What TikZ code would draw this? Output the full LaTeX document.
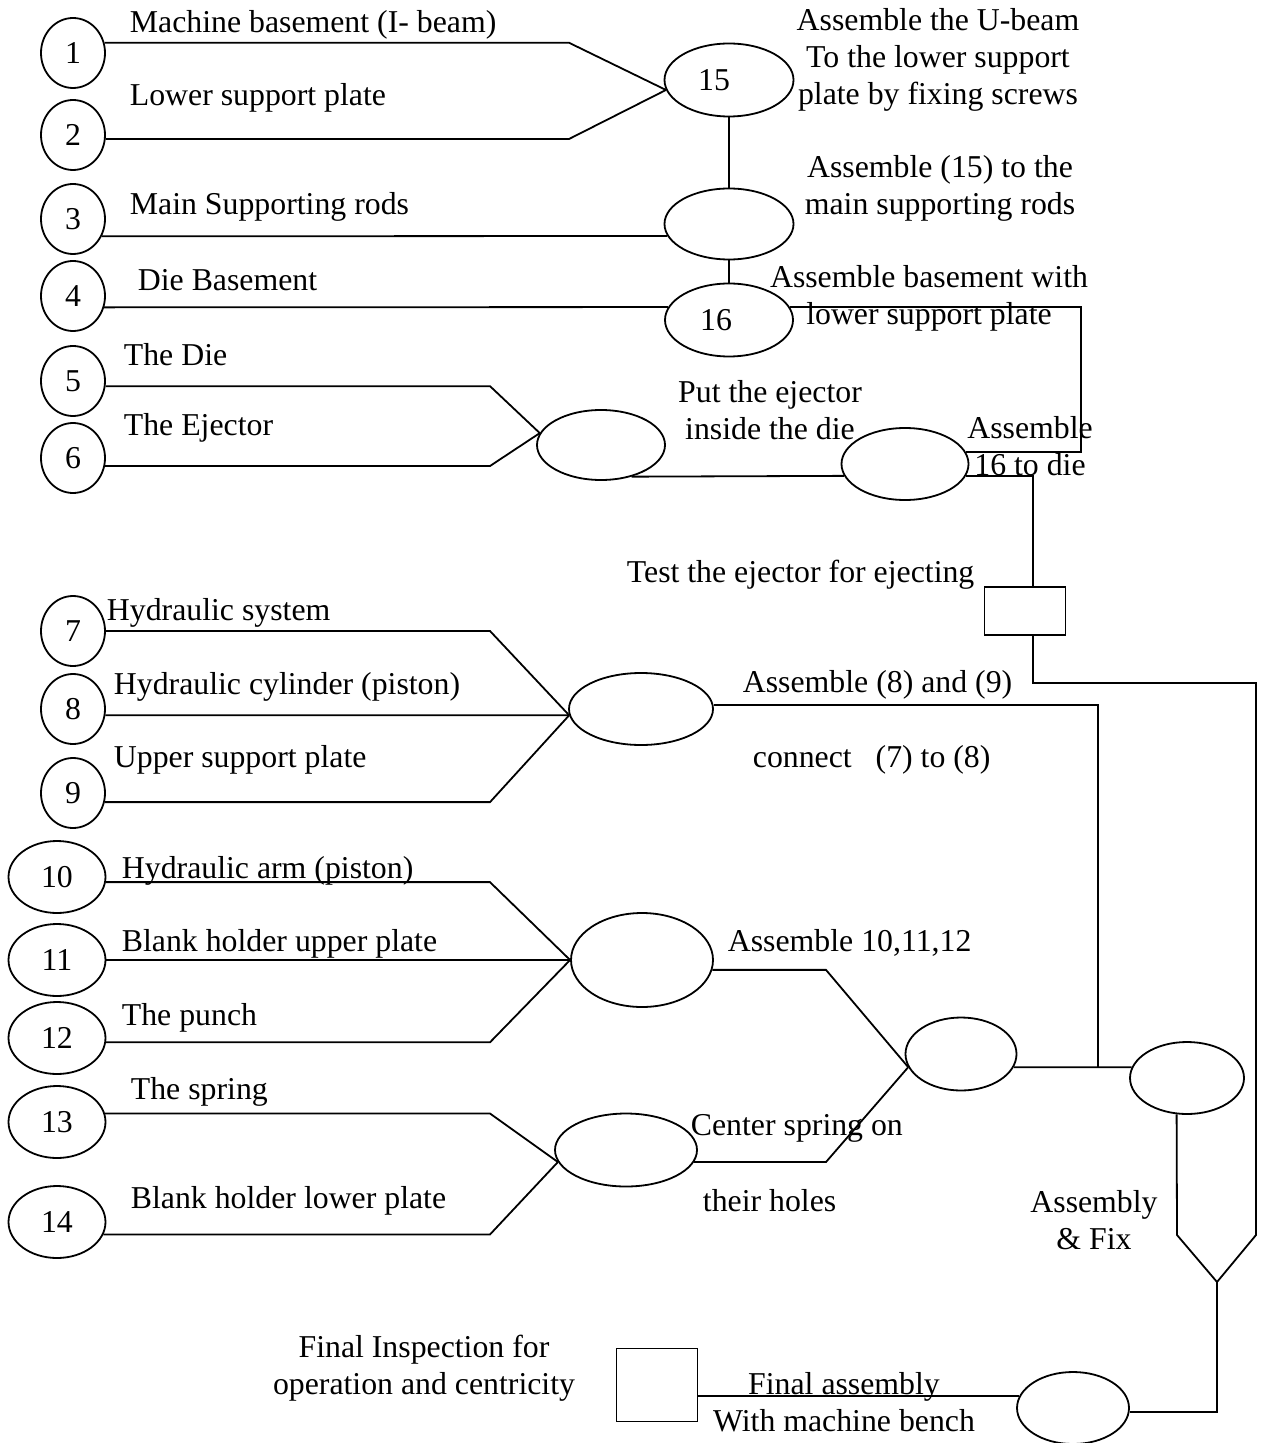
\documentclass[tikz,border=0pt]{standalone}
\usepackage{fontspec}
\setmainfont{Liberation Serif}
\usetikzlibrary{shapes.geometric}

\tikzset{
  partnode/.style={draw, ellipse, minimum width=32pt, minimum height=35pt, inner sep=0pt},
  partwide/.style={partnode, minimum width=48.5pt, minimum height=36pt},
  joint/.style={draw, ellipse, inner sep=0pt},
  inspect/.style={draw, rectangle, inner sep=0pt},
  txt/.style={inner sep=0pt, anchor=west},
  mtxt/.style={inner sep=0pt, align=center}
}

\begin{document}
\begin{tikzpicture}[x=0.5pt, y=-0.5pt, line width=0.9pt, font=\fontsize{15.9}{18.5}\selectfont]
    \useasboundingbox (0,0) rectangle (1260,1443);

    \coordinate (colA) at (569,0);
    \coordinate (colB) at (490,0);
    \coordinate (colC) at (826,0);
    \coordinate (busA) at (1081,380);
    \coordinate (busB) at (1256,683);
    \coordinate (joinR) at (1098,1067);
    \coordinate (funR) at (1256,1235);
    \coordinate (funL) at (1177,1235);
    \coordinate (funnel) at (1217,1282);

    % parts
    \node[partnode] (p1) at (73,53) {1};
    \node[partnode] (p2) at (73,135) {2};
    \node[partnode] (p3) at (73,219) {3};
    \node[partnode] (p4) at (73,296) {4};
    \node[partnode] (p5) at (73,381) {5};
    \node[partnode] (p6) at (73,458) {6};
    \node[partnode] (p7) at (73,631) {7};
    \node[partnode] (p8) at (73,709) {8};
    \node[partnode] (p9) at (73,793) {9};
    \node[partwide] (p10) at (57,877) {10};
    \node[partwide] (p11) at (57,960) {11};
    \node[partwide] (p12) at (57,1038) {12};
    \node[partwide] (p13) at (57,1122) {13};
    \node[partwide] (p14) at (57,1222) {14};

    % assembly steps
    \node[joint, minimum width=64.5pt, minimum height=36.5pt, label={[xshift=-7.5pt]center:15}] (j15) at (729,80) {};
    \node[joint, minimum width=64.5pt, minimum height=35.5pt] (j3) at (729,224) {};
    \node[joint, minimum width=64pt, minimum height=36.5pt, label={[xshift=-6.5pt]center:16}] (j16) at (729,320) {};
    \node[joint, minimum width=64pt, minimum height=35pt] (j56) at (601,445) {};
    \node[joint, minimum width=63.5pt, minimum height=36pt] (jdie) at (905,464) {};
    \node[inspect, minimum width=40.5pt, minimum height=24pt] (test) at (1025,611) {};
    \node[joint, minimum width=72pt, minimum height=36pt] (j789) at (641,709) {};
    \node[joint, minimum width=71pt, minimum height=47pt] (j1012) at (642,960) {};
    \node[joint, minimum width=71pt, minimum height=36.5pt] (j1314) at (626,1150) {};
    \node[joint, minimum width=55.5pt, minimum height=36.5pt] (jmid) at (961,1054) {};
    \node[joint, minimum width=57pt, minimum height=36pt] (jfix) at (1187,1078) {};
    \node[joint, minimum width=56pt, minimum height=36pt] (jbench) at (1073,1408) {};
    \node[inspect, minimum width=40.5pt, minimum height=36.5pt] (final) at (657,1385) {};

    % part names
    \node[txt] (t1) at (129,25) {Machine basement (I- beam)};
    \node[txt] (t2) at (129,98) {Lower support plate};
    \node[txt] (t3) at (129,207) {Main Supporting rods};
    \node[txt] (t4) at (137,280) {Die Basement};
    \node[txt] (t5) at (123,355) {The Die};
    \node[txt] (t6) at (123,428) {The Ejector};
    \node[txt] (t7) at (106,613) {Hydraulic system};
    \node[txt] (t8) at (113,687) {Hydraulic cylinder (piston)};
    \node[txt] (t9) at (113,760) {Upper support plate};
    \node[txt] (t10) at (121,871) {Hydraulic arm (piston)};
    \node[txt] (t11) at (121,944) {Blank holder upper plate};
    \node[txt] (t12) at (121,1018) {The punch};
    \node[txt] (t13) at (130,1092) {The spring};
    \node[txt] (t14) at (130,1201) {Blank holder lower plate};

    % step notes
    \node[mtxt] (t15) at (938,60) {Assemble the U-beam\\To the lower support\\plate by fixing screws};
    \node[mtxt] (t3j) at (940,188) {Assemble (15) to the\\main supporting rods};
    \node[mtxt] (t16) at (929,298) {Assemble basement with\\lower support plate};
    \node[mtxt] (t56) at (770,410) {Put the ejector\\inside the die};
    \node[mtxt] (tdie) at (1030,446) {Assemble\\16 to die};
    \node[txt] (ttest) at (626,575) {Test the ejector for ejecting};
    \node[txt] (t89) at (742,685) {Assemble (8) and (9)};
    \node[txt] (t78) at (752,760) {connect\ \ \ (7) to (8)};
    \node[txt] (t1012) at (727,943) {Assemble 10,11,12};
    \node[txt] (tspr) at (690,1128) {Center spring on};
    \node[txt] (thol) at (702,1201) {their holes};
    \node[mtxt] (tfix) at (1094,1220) {Assembly\\\& Fix};
    \node[mtxt] (tfin) at (424,1368) {Final Inspection for\\operation and centricity};
    \node[mtxt] (tbench) at (844,1402) {Final assembly\\With machine bench};

    % upper group
    \draw (p1.18) -- (p1.18 -| colA) -- (j15.189);
    \draw (p2.-7) -- (p2.-7 -| colA) -- (j15.189);
    \draw (j15.south) -- (j3.north);
    \draw (p3.-31) -- (j3.191);
    \draw (j3.south) -- (j16.north);
    \draw (p4.-20) -- (j16.168);
    \draw (j16.12) -| (busA) |- (jdie.11);
    \draw (p5.-9) -- (p5.-9 -| colB) -- (j56.169);
    \draw (p6.-14) -- (p6.-14 -| colB) -- (j56.169);
    \draw (j56.-46) -- (jdie.191);
    \draw (jdie.-11) -| ([xshift=4pt]test.north);
    \draw ([xshift=4pt]test.south) |- (busB) -- (funR) -- (funnel);

    % hydraulic group
    \draw (p7.east) -- (p7.east -| colB) -- (j789.185);
    \draw (p8.-11) -- (j789.185);
    \draw (p9.-16) -- (p9.-16 -| colB) -- (j789.185);
    \draw (j789.3) -| (joinR);

    % punch and spring group
    \draw (p10.-6) -- (p10.-6 -| colB) -- (j1012.west);
    \draw (p11.east) -- (j1012.west);
    \draw (p12.-5) -- (p12.-5 -| colB) -- (j1012.west);
    \draw (j1012.-8) -- (j1012.-8 -| colC) -- (jmid.194);
    \draw (p13.10) -- (p13.10 -| colB) -- (j1314.190);
    \draw (p14.-15) -- (p14.-15 -| colB) -- (j1314.190);
    \draw (j1314.-10) -- (j1314.-10 -| colC) -- (jmid.194);

    % final steps
    \draw (jmid.-14) -- (jfix.169);
    \draw (jfix.-106) -- (funL) -- (funnel);
    \draw (funnel) |- (jbench.-4);
    \draw (jbench.167) -- (jbench.167 -| final.east);
\end{tikzpicture}
\end{document}
